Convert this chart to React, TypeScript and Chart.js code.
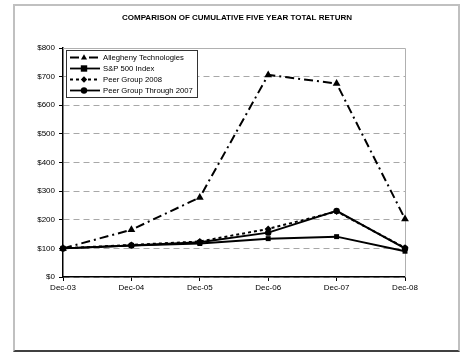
import React, { useEffect, useRef } from 'react';
import { Chart, registerables } from 'chart.js';

Chart.register(...registerables);

const categories = ['Dec-03', 'Dec-04', 'Dec-05', 'Dec-06', 'Dec-07', 'Dec-08'];
const allegheny = [100, 165, 278, 706, 676, 203];
const sp500 = [100, 110, 117, 134, 141, 90];
const peer2008 = [100, 112, 124, 168, 229, 102];
const peerThrough2007 = [100, 110, 121, 155, 231, 100];
const yTickValues = [0, 100, 200, 300, 400, 500, 600, 700, 800];
const chartTitle = 'COMPARISON OF CUMULATIVE FIVE YEAR TOTAL RETURN';
const FONT = '"Liberation Sans", Arial, sans-serif';

const plotBorderPlugin = {
  id: 'plotBorder',
  beforeDatasetsDraw(chart: any) {
    const { ctx, chartArea } = chart;
    ctx.save();
    ctx.strokeStyle = '#b0b0b0';
    ctx.lineWidth = 1;
    ctx.setLineDash([]);
    ctx.beginPath();
    ctx.moveTo(chartArea.left, chartArea.top + 0.5);
    ctx.lineTo(chartArea.right + 0.5, chartArea.top + 0.5);
    ctx.lineTo(chartArea.right + 0.5, chartArea.bottom);
    ctx.stroke();
    ctx.restore();
  },
};

function drawMarker(ctx: any, style: string, x: number, y: number, r: number) {
  ctx.beginPath();
  if (style === 'triangle') {
    ctx.moveTo(x, y - r);
    ctx.lineTo(x + r * 0.95, y + r * 0.6);
    ctx.lineTo(x - r * 0.95, y + r * 0.6);
    ctx.closePath();
  } else if (style === 'rect') {
    ctx.rect(x - r, y - r, 2 * r, 2 * r);
  } else if (style === 'rectRot') {
    ctx.moveTo(x, y - r);
    ctx.lineTo(x + r, y);
    ctx.lineTo(x, y + r);
    ctx.lineTo(x - r, y);
    ctx.closePath();
  } else {
    ctx.arc(x, y, r, 0, Math.PI * 2);
  }
  ctx.fill();
}

const titleLegendPlugin = {
  id: 'titleLegend',
  afterDraw(chart: any) {
    const { ctx } = chart;
    ctx.save();
    ctx.fillStyle = '#000';
    ctx.font = `bold 8px ${FONT}`;
    ctx.textAlign = 'center';
    ctx.textBaseline = 'middle';
    ctx.fillText(chartTitle, 237, 18);

    // legend box
    const bx = 66.5, by = 50.5, bw = 131, bh = 47;
    ctx.fillStyle = '#fff';
    ctx.fillRect(bx, by, bw, bh);
    ctx.strokeStyle = '#333';
    ctx.lineWidth = 1;
    ctx.setLineDash([]);
    ctx.strokeRect(bx, by, bw, bh);

    chart.data.datasets.forEach((ds: any, i: number) => {
      const y = 57.5 + i * 11;
      ctx.strokeStyle = '#000';
      ctx.fillStyle = '#000';
      ctx.lineWidth = 1.8;
      ctx.setLineDash(ds.borderDash || []);
      ctx.beginPath();
      ctx.moveTo(70, y);
      ctx.lineTo(100, y);
      ctx.stroke();
      ctx.setLineDash([]);
      drawMarker(ctx, ds.pointStyle, 84, y, Math.min(ds.pointRadius, 3.2));
      ctx.font = `7.7px ${FONT}`;
      ctx.textAlign = 'left';
      ctx.textBaseline = 'middle';
      ctx.fillText(ds.label, 103, y);
    });
    ctx.restore();
  },
};

export default function App() {
  const canvasRef = useRef<HTMLCanvasElement | null>(null);

  useEffect(() => {
    if (!canvasRef.current) return;
    const chart = new Chart(canvasRef.current, {
      type: 'line',
      data: {
        labels: categories,
        datasets: [
          {
            label: 'Allegheny Technologies',
            data: allegheny,
            borderColor: '#000',
            backgroundColor: '#000',
            borderWidth: 2,
            borderDash: [9, 4, 2, 4],
            pointStyle: 'triangle',
            pointRadius: 4.5,
            pointBorderWidth: 0,
            tension: 0,
          },
          {
            label: 'S&P 500 Index',
            data: sp500,
            borderColor: '#000',
            backgroundColor: '#000',
            borderWidth: 2,
            pointStyle: 'rect',
            pointRadius: 3.5,
            pointBorderWidth: 0,
            tension: 0,
          },
          {
            label: 'Peer Group 2008',
            data: peer2008,
            borderColor: '#000',
            backgroundColor: '#000',
            borderWidth: 2,
            borderDash: [3, 3],
            pointStyle: 'rectRot',
            pointRadius: 3.5,
            pointBorderWidth: 0,
            tension: 0,
          },
          {
            label: 'Peer Group Through 2007',
            data: peerThrough2007,
            borderColor: '#000',
            backgroundColor: '#000',
            borderWidth: 2,
            pointStyle: 'circle',
            pointRadius: 3.2,
            pointBorderWidth: 0,
            tension: 0,
          },
        ],
      },
      options: {
        animation: false,
        responsive: false,
        maintainAspectRatio: false,
        layout: { padding: { left: 0, right: 60, top: 48, bottom: 57 } },
        plugins: {
          legend: { display: false },
          title: { display: false },
          tooltip: { enabled: false },
        },
        scales: {
          x: {
            offset: false,
            afterFit(scale: any) {
              scale.height = 20;
            },
            grid: {
              display: true,
              drawOnChartArea: false,
              drawTicks: true,
              tickLength: 4,
              tickColor: '#000',
            },
            border: { display: true, color: '#000', width: 1.5 },
            ticks: {
              color: '#000',
              padding: 2,
              maxRotation: 0,
              autoSkip: false,
              font: { family: FONT, size: 8 },
            },
          },
          y: {
            min: 0,
            max: 800,
            afterFit(scale: any) {
              scale.width = 63;
            },
            afterBuildTicks(scale: any) {
              scale.ticks = yTickValues.map((v) => ({ value: v }));
            },
            grid: {
              color: '#a8a8a8',
              lineWidth: 1,
              drawTicks: true,
              tickLength: 4,
              tickColor: '#000',
              tickBorderDash: [],
            },
            border: { display: true, color: '#000', width: 1.5, dash: [6, 4] },
            ticks: {
              color: '#000',
              padding: 4,
              font: { family: FONT, size: 8 },
              callback: (v: any) => '$' + v,
            },
          },
        },
      },
      plugins: [plotBorderPlugin, titleLegendPlugin],
    });
    return () => chart.destroy();
  }, []);

  return (
    <div style={{ position: 'fixed', left: 0, top: 0, width: 465, height: 354, background: '#fff' }}>
      <div
        style={{
          position: 'absolute',
          left: 13,
          top: 4,
          width: 443,
          height: 344,
          borderLeft: '2px solid #c0c0c0',
          borderTop: '2px solid #c0c0c0',
          borderRight: '2px solid #c0c0c0',
          borderBottom: '2px solid #404040',
        }}
      />
      <canvas ref={canvasRef} width={465} height={354} style={{ position: 'absolute', left: 0, top: 0 }} />
    </div>
  );
}
